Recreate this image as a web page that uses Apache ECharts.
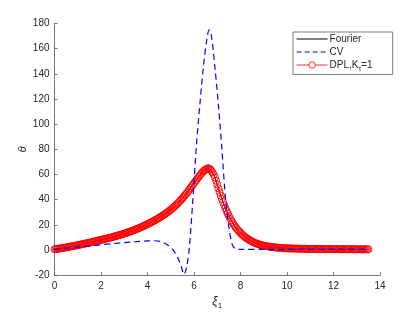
<!DOCTYPE html>
<html><head><meta charset="utf-8">
<script src="https://cdn.jsdelivr.net/npm/echarts@6/dist/echarts.min.js"></script>
<style>html,body{margin:0;padding:0;background:#fff}#c{width:420px;height:315px}</style>
</head><body><div id="c"></div>
<script>
const xiStep = 0.05;
const fourierTheta = [
0.5,0.65,0.8,0.95,1.1,1.25,1.4,1.55,1.7,1.85,
2.0,2.2,2.4,2.55,2.7,2.9,3.1,3.25,3.4,3.6,
3.8,4.0,4.2,4.4,4.6,4.8,5.0,5.2,5.4,5.6,
5.8,6.0,6.2,6.45,6.7,6.9,7.1,7.35,7.6,7.8,
8.0,8.2,8.4,8.65,8.9,9.1,9.3,9.55,9.8,10.0,
10.2,10.5,10.8,11.05,11.3,11.6,11.9,12.15,12.4,12.7,
13.0,13.3,13.6,13.95,14.3,14.6,14.9,15.25,15.6,15.95,
16.3,16.7,17.1,17.5,17.9,18.3,18.7,19.15,19.6,20.05,
20.5,20.95,21.4,21.9,22.4,22.9,23.4,23.9,24.4,24.95,
25.5,26.1,26.7,27.3,27.9,28.55,29.2,29.9,30.6,31.3,
32.0,32.8,33.6,34.4,35.2,36.1,37.0,38.0,39.0,40.0,
41.0,42.1,43.2,44.3,45.5,46.7,48.0,49.2,50.5,51.8,
53.0,54.3,55.5,56.8,58.0,59.2,60.4,61.5,62.5,63.3,
64.0,64.6,65.0,64.7,64.0,62.9,61.5,59.7,57.5,54.9,
52.0,49.0,46.0,43.2,40.5,38.0,35.5,33.2,31.0,29.0,
27.0,25.2,23.5,22.0,20.5,19.1,17.8,16.6,15.5,14.5,
13.5,12.6,11.7,10.9,10.2,9.5,8.9,8.3,7.7,7.2,
6.7,6.2,5.8,5.4,5.0,4.7,4.4,4.1,3.8,3.55,
3.3,3.15,3.0,2.85,2.7,2.55,2.4,2.3,2.2,2.1,
2.0,1.9,1.8,1.75,1.7,1.6,1.5,1.45,1.4,1.35,
1.3,1.28,1.25,1.22,1.2,1.15,1.1,1.08,1.05,1.02,
1.0,0.98,0.95,0.92,0.9,0.9,0.9,0.88,0.85,0.82,
0.8,0.8,0.8,0.78,0.75,0.75,0.75,0.72,0.7,0.7,
0.7,0.7,0.7,0.68,0.65,0.65,0.65,0.62,0.6,0.6,
0.6,0.6,0.6,0.6,0.6,0.6,0.6,0.6,0.6,0.58,
0.55,0.55,0.55,0.55,0.55,0.55,0.55,0.55,0.55,0.52,
0.5,0.5,0.5,0.5,0.5,0.5,0.5,0.5,0.5,0.5,
0.5
];
// CV curve points [xi, theta]
const cvXi =    [0,0.5,1,1.5,2,2.5,3,3.5,4,4.3,4.6,4.9,5.1,5.3,5.45,5.57,5.68,5.8,5.95,6.1,6.25,6.4,6.55,6.65,6.75,6.9,7.05,7.2,7.35,7.5,7.65,7.8,8,9,13.5];
const cvTheta = [0.5,1.4,2.3,3.2,4.1,5,5.8,6.6,7.2,7.3,6.5,3.5,0,-6,-13,-19.5,-14,2,40,82,115,145,167,175,170,145,115,80,42,18,4,0.8,0.5,0.5,0.5];
const xTicks = [0,2,4,6,8,10,12,14];
const yTicks = [-20,0,20,40,60,80,100,120,140,160,180];

const fourierData = fourierTheta.map((v,i)=>[+(i*xiStep).toFixed(2), v]);
const cvData = cvXi.map((x,i)=>[x, cvTheta[i]]);

const axisColor = '#404040';
const txt = '#262626';
const font = 'Liberation Sans, Arial, sans-serif';
const hidden = {color:'rgba(0,0,0,0)', borderWidth:0, opacity:0};
const chart = echarts.init(document.getElementById('c'), null, {renderer:'canvas'});
chart.setOption({
  animation:false,
  backgroundColor:'#fff',
  grid:{left:54.5, right:40, top:23.5, bottom:37.5, containLabel:false},
  legend:{
    orient:'vertical', left:293, top:32,
    backgroundColor:'#fff', borderColor:'#262626', borderWidth:0.6,
    padding:[2,20,2,3], itemGap:3, itemWidth:31, itemHeight:8,
    textStyle:{fontFamily:font, fontSize:10, color:txt, padding:[0,0,0,-3],
      rich:{a:{fontFamily:font,fontSize:10,color:txt}, s:{fontFamily:font,fontSize:7,color:txt,verticalAlign:'bottom',padding:[8,0,0,0]}}},
    data:[
      {name:'Fourier', itemStyle:hidden, lineStyle:{color:'#000', width:1}},
      {name:'CV', itemStyle:hidden, lineStyle:{color:'#0000ff', width:1.2, type:[5,3]}},
      {name:'DPL', itemStyle:{color:'#fff', borderColor:'#ff0000', borderWidth:0.8}, lineStyle:{color:'#ff0000', width:0.8}}
    ],
    formatter:function(n){ return n==='DPL' ? '{a|DPL,K}{s|τ}{a|=1}' : n; }
  },
  xAxis:{
    type:'value', min:0, max:14, interval:2,
    name:'{i|ξ}{s|1}', nameLocation:'middle', nameGap:18,
    nameTextStyle:{rich:{i:{fontFamily:font,fontSize:12,fontStyle:'italic',color:txt}, s:{fontFamily:font,fontSize:8,color:txt,padding:[8,0,0,0]}}},
    axisLine:{onZero:false, lineStyle:{color:axisColor,width:0.7}},
    axisTick:{inside:true, length:3, lineStyle:{color:axisColor,width:0.7}},
    axisLabel:{fontFamily:font, fontSize:10, color:txt, margin:6,
      formatter:v=>xTicks.includes(v)?String(v):''},
    splitLine:{show:false}
  },
  yAxis:{
    type:'value', min:-20, max:180, interval:20,
    name:'θ', nameLocation:'middle', nameGap:26, nameRotate:90, nameMoveOverlap:false,
    nameTextStyle:{fontFamily:font, fontSize:11, fontStyle:'italic', color:txt},
    axisLine:{show:true, onZero:false, lineStyle:{color:axisColor,width:0.7}},
    axisTick:{show:true, inside:true, length:3, lineStyle:{color:axisColor,width:0.7}},
    axisLabel:{fontFamily:font, fontSize:10, color:txt, margin:5,
      formatter:v=>yTicks.includes(v)?String(v):''},
    splitLine:{show:false}
  },
  series:[
    {name:'Fourier', type:'line', data:fourierData, showSymbol:false, symbol:'none', z:2,
      lineStyle:{color:'#000', width:1}, itemStyle:{color:'#000'}},
    {name:'CV', type:'line', data:cvData, showSymbol:false, symbol:'none', smooth:0.3, z:4,
      lineStyle:{color:'#0000ff', width:1.2, type:[6,4]}, itemStyle:{color:'#0000ff'}},
    {name:'DPL', type:'line', data:fourierData, symbol:'circle', symbolSize:7, showAllSymbol:true, z:3,
      lineStyle:{color:'#ff0000', width:1}, itemStyle:{color:'rgba(255,255,255,0)', borderColor:'#ff0000', borderWidth:0.9}}
  ]
});
</script></body></html>
